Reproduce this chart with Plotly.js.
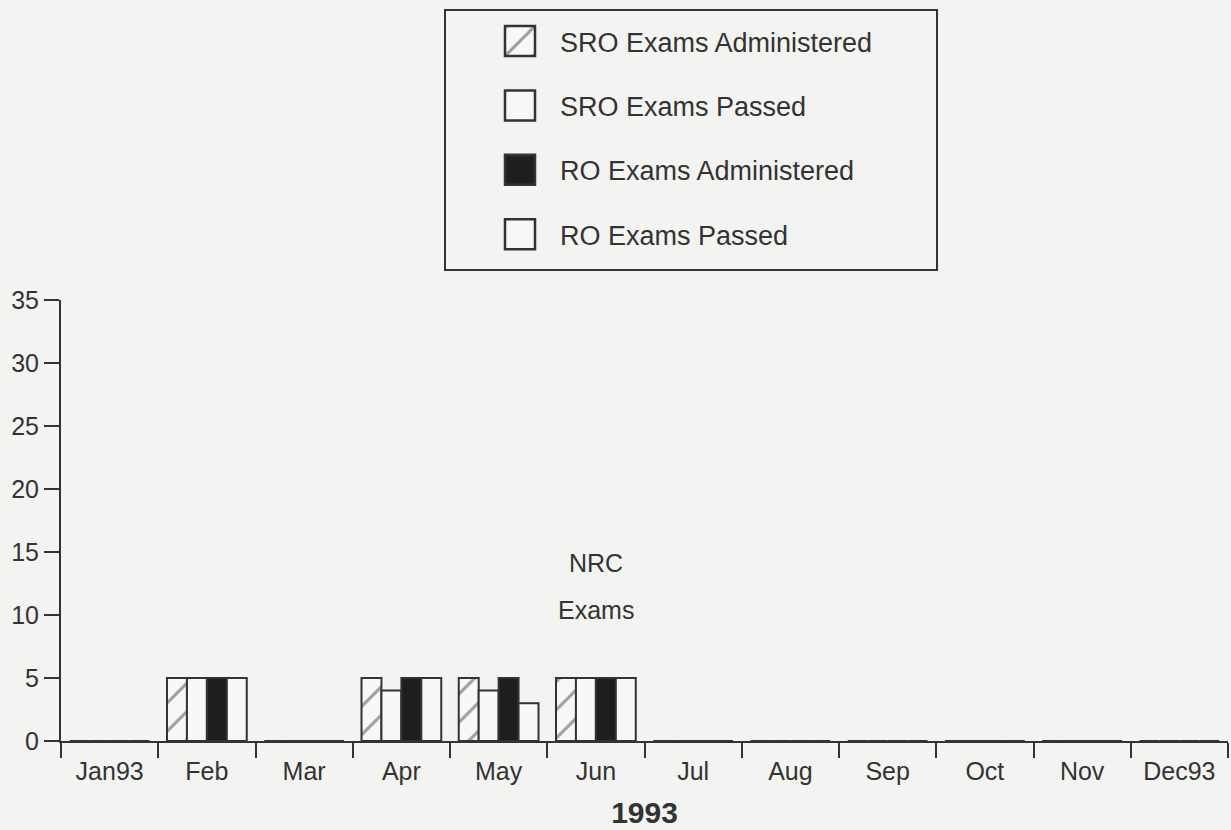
<!DOCTYPE html>
<html>
<head>
<meta charset="utf-8">
<script src="https://cdn.plot.ly/plotly-3.0.1.min.js"></script>
<style>
html,body{margin:0;padding:0;background:#f3f3f1;}
#chart{width:1231px;height:830px;}
</style>
</head>
<body>
<div id="chart"></div>
<script>
// ---- data ----
const months = ["Jan93","Feb","Mar","Apr","May","Jun","Jul","Aug","Sep","Oct","Nov","Dec93"];
const seriesNames = ["SRO Exams Administered","SRO Exams Passed","RO Exams Administered","RO Exams Passed"];
const sroAdministered = [0,5,0,5,5,5,0,0,0,0,0,0];
const sroPassed       = [0,5,0,4,4,5,0,0,0,0,0,0];
const roAdministered  = [0,5,0,5,5,5,0,0,0,0,0,0];
const roPassed        = [0,5,0,5,3,5,0,0,0,0,0,0];
const yTicks = [0,5,10,15,20,25,30,35];
const axisTitle = "1993";
const noteLines = ["NRC","Exams"];
const noteMonth = "Jun";
const noteY = [14.1, 10.4];

const ink = "#333333";
const paper = "#f3f3f1";
const whiteFill = "#f8f8f6";
const FONT = "Liberation Sans, Arial, Helvetica, sans-serif";

function barTrace(name, y, fill, pattern, grp){
  const m = {color: fill, line:{color: ink, width: 2}};
  if (pattern) m.pattern = pattern;
  return {type:"bar", name:name, x:months, y:y, marker:m, legendgroup:grp};
}

const traces = [
  barTrace(seriesNames[0], sroAdministered, whiteFill,
    {shape:"/", size:20, solidity:0.15, fgcolor:"#444", bgcolor:whiteFill, fillmode:"overlay"}, "g1"),
  barTrace(seriesNames[1], sroPassed, whiteFill, null, "g2"),
  barTrace(seriesNames[2], roAdministered, "#1e1e1e", null, "g3"),
  barTrace(seriesNames[3], roPassed, whiteFill, null, "g4")
];

const W = 1231, H = 830;
const mL = 61, mR = 3, mT = 300, mB = 89;
const pw = W - mL - mR, ph = H - mT - mB;
function px2x(px){ return (px - mL) / pw; }
function px2y(py){ return (H - mB - py) / ph; }

const layout = {
  width: W, height: H,
  paper_bgcolor: paper, plot_bgcolor: paper,
  margin: {l:mL, r:mR, t:mT, b:mB, autoexpand:false},
  font: {family: FONT, color: ink, size: 24},
  barmode: "group", bargap: 0.18, bargroupgap: 0,
  showlegend: true,
  legend: {
    x: px2x(500), y: px2y(17), xanchor:"left", yanchor:"top",
    bgcolor: "rgba(0,0,0,0)", borderwidth: 0,
    font: {family: FONT, size: 27, color: ink},
    tracegroupgap: 26.3, traceorder: "grouped", itemwidth: 50
  },
  xaxis: {
    type: "category", categoryorder: "array", categoryarray: months,
    tickson: "boundaries", ticks: "outside", ticklen: 15, tickwidth: 2, tickcolor: ink,
    showline: true, linecolor: ink, linewidth: 2, showgrid: false, zeroline: false,
    tickfont: {size: 25, color: ink}, ticklabelstandoff: 7,
    title: {text: axisTitle, font: {size: 30, color: ink, family: FONT, weight: "bold"}, standoff: 18}
  },
  yaxis: {
    range: [0, 35], tickmode: "array", tickvals: yTicks, ticktext: yTicks.map(String),
    ticks: "outside", ticklen: 15, tickwidth: 2, tickcolor: ink,
    showline: true, linecolor: ink, linewidth: 2, showgrid: false, zeroline: false,
    tickfont: {size: 25, color: ink}
  },
  shapes: [{
    type: "rect", xref: "paper", yref: "paper",
    x0: px2x(445), x1: px2x(937), y0: px2y(270), y1: px2y(10),
    line: {color: ink, width: 2}, fillcolor: "rgba(0,0,0,0)"
  }],
  annotations: noteLines.map((t, i) => ({
    x: noteMonth, y: noteY[i], xref: "x", yref: "y", text: t, showarrow: false,
    font: {size: 25, color: ink, family: FONT}
  }))
};

Plotly.newPlot("chart", traces, layout, {displayModeBar:false, staticPlot:true}).then(() => {
  document.querySelectorAll(".legend .legendpoints path").forEach(p => {
    p.setAttribute("transform", "translate(20,0) scale(2.5)");
    p.style.strokeWidth = "1px";
  });
});
</script>
</body>
</html>
